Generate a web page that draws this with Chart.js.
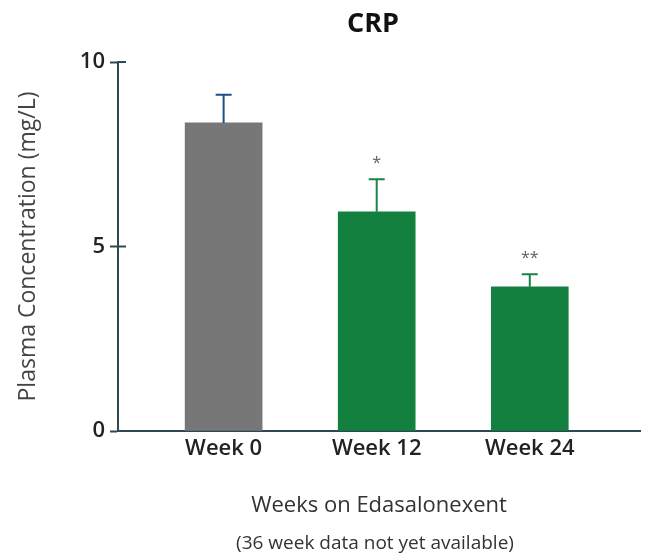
<!DOCTYPE html>
<html>
<head>
<meta charset="utf-8">
<script src="https://cdn.jsdelivr.net/npm/chart.js@4.4.1/dist/chart.umd.min.js"></script>
<style>
  html, body { margin: 0; padding: 0; background: #fff; }
  #wrap { width: 648px; height: 556px; }
</style>
</head>
<body>
<div id="wrap"><canvas id="crpChart"></canvas></div>
<script>
// data
const categories = ['Week 0', 'Week 12', 'Week 24'];
const meanValues = [8.35, 5.94, 3.91];
const errorValues = [0.76, 0.88, 0.34];
const significance = ['', '*', '**'];
const yTicks = [0, 5, 10];

const axisColor = '#2d4a52';
const barColors = ['#777777', '#14803f', '#14803f'];
const errColors = ['#1f4f8a', '#1a8447', '#1a8447'];

// error bars + asterisks + tick marks inside the axis + title
const extrasPlugin = {
    id: 'extras',
    afterDatasetsDraw(chart) {
        const ctx = chart.ctx;
        const xs = chart.scales.x;
        const ys = chart.scales.y;
        ctx.save();
        meanValues.forEach((v, i) => {
            let x = xs.getPixelForValue(i);
            let yTop = ys.getPixelForValue(v);
            let yErr = ys.getPixelForValue(v + errorValues[i]);
            ctx.strokeStyle = errColors[i];
            ctx.lineWidth = 2;
            ctx.beginPath();
            ctx.moveTo(x, yTop);
            ctx.lineTo(x, yErr);
            ctx.moveTo(x - 8, yErr);
            ctx.lineTo(x + 8, yErr);
            ctx.stroke();

            if (significance[i]) {
                ctx.fillStyle = '#5a6070';
                ctx.font = '16px "Open Sans"';
                ctx.textAlign = 'center';
                ctx.textBaseline = 'middle';
                ctx.fillText(significance[i], x, yErr - 16);
            }
        });

        // inner half of the y tick marks
        ctx.strokeStyle = axisColor;
        ctx.lineWidth = 2;
        yTicks.forEach(t => {
            let y = ys.getPixelForValue(t);
            ctx.beginPath();
            ctx.moveTo(chart.chartArea.left, y);
            ctx.lineTo(chart.chartArea.left + 8, y);
            ctx.stroke();
        });

        let cx = (chart.chartArea.left + chart.chartArea.right) / 2;
        ctx.fillStyle = '#111';
        ctx.textAlign = 'center';
        ctx.textBaseline = 'middle';
        ctx.font = 'bold 27px "Open Sans"';
        ctx.fillText('CRP', cx - 6, 24);

        ctx.fillStyle = '#333';
        ctx.font = '19px "Open Sans"';
        ctx.fillText('(36 week data not yet available)', cx - 4, 544);
        ctx.restore();
    }
};

new Chart(document.getElementById('crpChart'), {
    type: 'bar',
    data: {
        datasets: [{
            data: meanValues.map((v, i) => ({ x: i, y: v })),
            backgroundColor: barColors,
            borderWidth: 0,
            barThickness: 77
        }]
    },
    options: {
        responsive: true,
        maintainAspectRatio: false,
        animation: false,
        layout: { padding: { top: 62, right: 8, left: 0, bottom: 0 } },
        plugins: {
            legend: { display: false },
            tooltip: { enabled: false }
        },
        scales: {
            x: {
                type: 'linear',
                offset: false,
                min: -0.69,
                max: 2.72,
                afterBuildTicks: scale => {
                    scale.ticks = categories.map((c, i) => ({ value: i }));
                },
                afterFit: scale => { scale.height = 125; },
                grid: { display: false, drawTicks: false },
                border: { color: axisColor, width: 2 },
                ticks: {
                    padding: 5,
                    color: '#222',
                    font: { family: 'Open Sans', size: 22, weight: '600' },
                    callback: value => categories[value] ?? ''
                },
                title: {
                    display: true,
                    text: 'Weeks on Edasalonexent',
                    color: '#333',
                    font: { family: 'Open Sans', size: 22 },
                    padding: { top: 0, bottom: 37 }
                }
            },
            y: {
                min: 0,
                max: 10,
                afterBuildTicks: scale => {
                    scale.ticks = yTicks.map(v => ({ value: v }));
                },
                afterFit: scale => { scale.width = 118; },
                grid: {
                    drawOnChartArea: false,
                    tickLength: 8,
                    tickWidth: 2,
                    tickColor: axisColor
                },
                border: { color: axisColor, width: 2 },
                ticks: {
                    padding: 5,
                    color: '#222',
                    font: { family: 'Open Sans', size: 22, weight: '600' }
                },
                title: {
                    display: true,
                    text: 'Plasma Concentration (mg/L)',
                    color: '#444',
                    font: { family: 'Open Sans', size: 23 },
                    padding: { top: 15, bottom: 0 }
                }
            }
        }
    },
    plugins: [extrasPlugin]
});
</script>
</body>
</html>
